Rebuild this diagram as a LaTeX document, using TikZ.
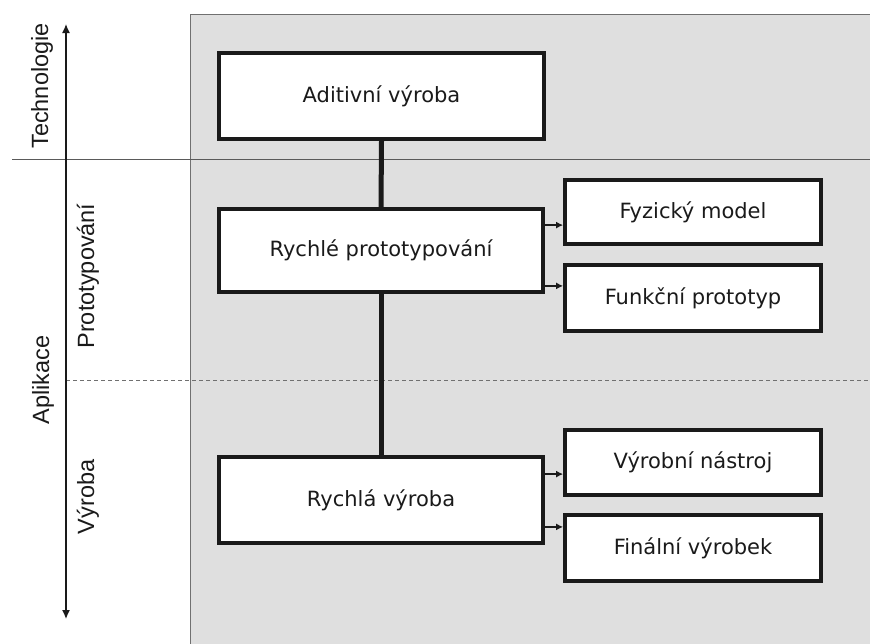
\documentclass[tikz,border=0pt]{standalone}
\usepackage{fontspec}
\setmainfont{DejaVu Sans}
\newfontfamily\axisfont{Liberation Sans}
\usepackage{tikz}
\usetikzlibrary{arrows.meta,positioning}
\definecolor{panelgray}{HTML}{DFDFDF}
\definecolor{panelline}{HTML}{707070}
\definecolor{inkdark}{HTML}{1A1A1A}

\begin{document}
\begin{tikzpicture}[
  x=1pt, y=-1pt,
  mainbox/.style={draw=inkdark, fill=white, line width=3.8pt, text=inkdark,
    font=\fontsize{21}{24}\selectfont, inner sep=0pt},
  leafbox/.style={mainbox, minimum width=256pt},
  axislbl/.style={font=\axisfont\fontsize{23.5}{26}\selectfont, text=inkdark, rotate=90, inner sep=0pt},
  stem/.style={draw=inkdark, line width=5pt},
  feed/.style={draw=inkdark, line width=1.5pt, -{Latex[length=7pt,width=7pt]}}
]
  \useasboundingbox (0,0) rectangle (870,643);
  % panel and separators
  \draw[fill=panelgray, draw=panelline, line width=1pt] (190.5,14.5) rectangle (880,660);
  \draw[color=panelline!80!black, line width=0.9pt] (12,159) -- (870,159);
  \draw[color=panelline, line width=0.9pt, dash pattern=on 4pt off 3pt] (66,380) -- (870,380);
  \draw[color=inkdark, line width=1.3pt, {Latex[length=9pt,width=8pt]}-{Latex[length=9pt,width=8pt]}] (66,24) -- (66,619);
  % axis labels
  \node[axislbl] (technologie) at (42,86) {Technologie};
  \node[axislbl] (aplikace) at (43,380) {Aplikace};
  \node[axislbl] (prototypovani) at (88,276) {Prototypování};
  \node[axislbl] (vyrobaaxis) at (88,497) {Výroba};
  % boxes
  \node[mainbox, minimum width=325pt, minimum height=86pt] (aditivni) at (381.5,96) {Aditivní výroba};
  \node[mainbox, minimum width=324pt, minimum height=83pt] (proto) at (381,250.5) {Rychlé prototypování};
  \node[mainbox, minimum width=324pt, minimum height=86pt] (rychla) at (381,500) {Rychlá výroba};
  \node[leafbox, minimum height=64pt] (fyzicky) at (693,212) {Fyzický model};
  \node[leafbox, minimum height=66pt] (funkcni) at (693,298) {Funkční prototyp};
  \node[leafbox, minimum height=65pt] (nastroj) at (693,462.5) {Výrobní nástroj};
  \node[leafbox, minimum height=66pt] (vyrobek) at (693,548) {Finální výrobek};
  % stem
  \draw[stem] (aditivni.south) -- (proto.north);
  \draw[stem] (proto.south) -- (rychla.north);
  % feeds
  \coordinate (pa) at ([yshift=-18pt]proto.north east);
  \coordinate (pb) at ([yshift=8pt]proto.south east);
  \coordinate (ra) at ([yshift=-19pt]rychla.north east);
  \coordinate (rb) at ([yshift=18pt]rychla.south east);
  \draw[feed] (pa) -- (pa -| fyzicky.west);
  \draw[feed] (pb) -- (pb -| funkcni.west);
  \draw[feed] (ra) -- (ra -| nastroj.west);
  \draw[feed] (rb) -- (rb -| vyrobek.west);
\end{tikzpicture}
\end{document}
